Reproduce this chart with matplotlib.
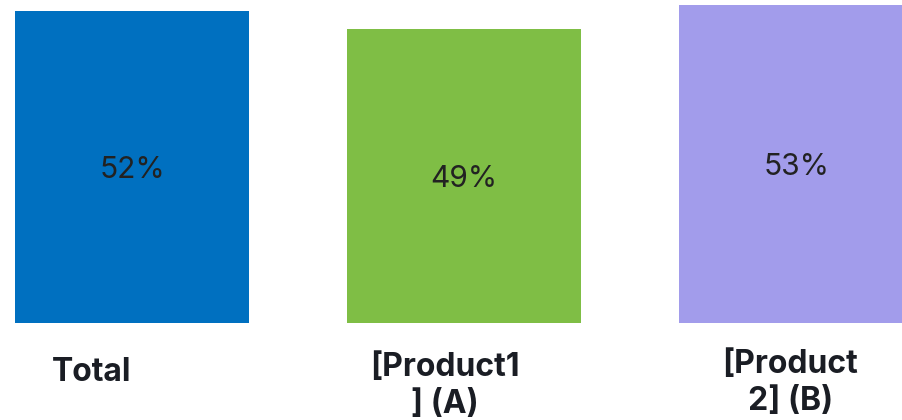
import matplotlib

matplotlib.use('Agg')
import matplotlib.pyplot as plt

# Data
categories = ['Total', '[Product1\n] (A)', '[Product\n2] (B)']
values = [52, 49, 53]
colors = ['#0070C0', '#7FBE45', '#A29CEB']

# per-label placement tweaks (layout only)
label_dx = [-0.123, -0.057, -0.018]
label_y = [-8.3, -10.5, -10.0]

plt.rcParams['font.family'] = ['Inter', 'DejaVu Sans']

fig = plt.figure(figsize=(9.03, 4.2), dpi=100)
ax = fig.add_axes([0, 97 / 420, 1, 323 / 420])

x = list(range(len(values)))
ax.bar(x, values, width=0.705, color=colors)

for i, v in enumerate(values):
    ax.text(i, v / 2 - 0.5, f"{v}%", ha='center', va='center',
            fontsize=21.5, color='#222222')
    ax.text(i + label_dx[i], label_y[i], categories[i], ha='center', va='center',
            multialignment='center', fontsize=23, fontweight='bold',
            color='#1a1d24', linespacing=1.25, clip_on=False)

ax.set_xlim(-0.3976, 2.322)
ax.set_ylim(0, 53.83)
ax.axis('off')

fig.savefig('out.png', dpi=100)
